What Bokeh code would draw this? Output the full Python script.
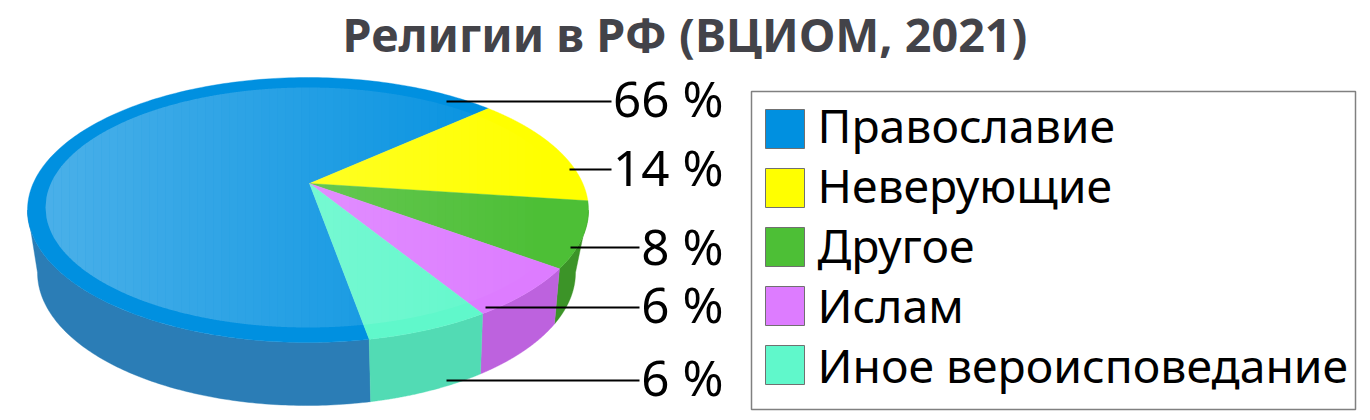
import numpy as np
from bokeh.plotting import figure
from bokeh.models import Range1d
from bokeh.core.properties import value
from bokeh.embed import file_html
from bokeh.resources import INLINE

title = "Религии в РФ (ВЦИОМ, 2021)"
categories = ["Православие", "Неверующие", "Другое", "Ислам", "Иное вероисповедание"]
percent_labels = ["66 %", "14 %", "8 %", "6 %", "6 %"]
# sweep of each drawn sector in degrees
sweeps = [232.6, 46.0, 30.3, 25.2, 25.9]
start_angle = 282.6   # clockwise from the blue/teal border
top_colors = ["#0090E0", "#FFFF00", "#4DBF36", "#DD7CFF", "#60F8CB"]
side_colors = ["#2B7DB6", "#C8C800", "#3C9428", "#BD62DE", "#52DBB4"]

W, H = 1362, 412
FONT = "Noto Sans"
p = figure(width=W, height=H, output_backend="svg", toolbar_location=None,
           x_range=Range1d(0, W), y_range=Range1d(H, 0),
           min_border=0, outline_line_color=None)
p.axis.visible = False
p.grid.visible = False

# geometry of the disc in page pixels
APEX = (309, 183)
TOP = (307.5, 209.5, 280.5, 132.5)
BOT = (306, 272, 269, 133)
INNER = (307.5, 207, 262.5, 120)
# the lower rim is slightly twisted against the upper rim
TWIST_FROM = [180, 282.6, 308.5, 333.7, 360]
TWIST_TO = [180, 283.8, 310.3, 337.2, 360]


def ell(e, a):
    a = np.radians(a)
    return e[0] + e[2] * np.cos(a), e[1] - e[3] * np.sin(a)


# sector bounds, running clockwise from the start angle
bounds = [start_angle]
for s in sweeps:
    bounds.append(bounds[-1] - s)


def front_range(a_hi, a_lo):
    for k in (0, -360, 360):
        hi, lo = a_hi + k, a_lo + k
        h, l = min(hi, 360), max(lo, 180)
        if h > l:
            return l, h
    return None


# side walls
for i in range(5):
    r = front_range(bounds[i], bounds[i + 1])
    if r is None:
        continue
    t = np.linspace(r[0], r[1], 120)
    tx, ty = ell(TOP, t)
    bx, by = ell(BOT, np.interp(t, TWIST_FROM, TWIST_TO))
    p.patch(np.r_[tx, bx[::-1]], np.r_[ty, by[::-1]], fill_color=side_colors[i],
            line_color=side_colors[i], line_width=0.4)

# top face sectors
for i in range(5):
    t = np.linspace(bounds[i], bounds[i + 1], 240)
    x, y = ell(TOP, t)
    p.patch(np.r_[APEX[0], x], np.r_[APEX[1], y], fill_color=top_colors[i],
            line_color=top_colors[i], line_width=0.4)

# highlight on the inner ellipse: white fading out to the right, in vertical strips
ix0 = int(INNER[0] - INNER[2])
ix1 = int(INNER[0] + INNER[2])
edges = np.arange(ix0, ix1 + 1, 8)
for a, b in zip(edges[:-1], edges[1:]):
    m = (a + b) / 2
    xs = np.linspace(a, b, 9)
    d2 = np.clip((xs - INNER[0]) / INNER[2], -1, 1)
    h2 = INNER[3] * np.sqrt(1 - d2 * d2)
    px = np.r_[xs, xs[::-1]]
    py = np.r_[INNER[1] - h2, (INNER[1] + h2)[::-1]]
    alpha = max(0.0, 0.29 * (1 - (m - ix0) / 500.0))
    if alpha > 0:
        p.patch(px, py, fill_color="white", fill_alpha=alpha, line_color=None)

# leader lines
lead_x0 = [446, 569, 570, 485, 446]
lead_x1 = [611, 611, 639, 639, 639]
lead_y = [101, 169, 247, 307, 380]
p.segment(lead_x0, lead_y, lead_x1, lead_y, line_color="black", line_width=2)

# percent labels (y = baseline less the renderer's baseline shift)
label_x = [723] * 5
label_y = [97, 166, 245, 303, 376]
p.text(label_x, label_y, text=percent_labels, text_font=value(FONT), text_font_size="49.4px",
       text_align="right", text_baseline="alphabetic", text_color="black")

# title
p.text([684.5], [33], text=[title], text_font=value(FONT), text_font_style="bold",
       text_font_size="46.7px", text_align="center", text_baseline="alphabetic", text_color="#434349")

# legend
p.quad(left=[751], right=[1355], top=[91], bottom=[409], fill_color="white",
       line_color="#808080", line_width=1.5)
sw_top = [109, 168, 227, 286, 345]
p.quad(left=[765] * 5, right=[804] * 5, top=sw_top, bottom=[t + 39 for t in sw_top],
       fill_color=top_colors, line_color="#707070", line_width=1)
leg_y = [125, 185, 245, 305, 365]
p.text([817] * 5, leg_y, text=categories, text_font=value(FONT), text_font_size="46.3px",
       text_align="left", text_baseline="alphabetic", text_color="black")

open("out.html", "w").write(file_html(p, INLINE))
